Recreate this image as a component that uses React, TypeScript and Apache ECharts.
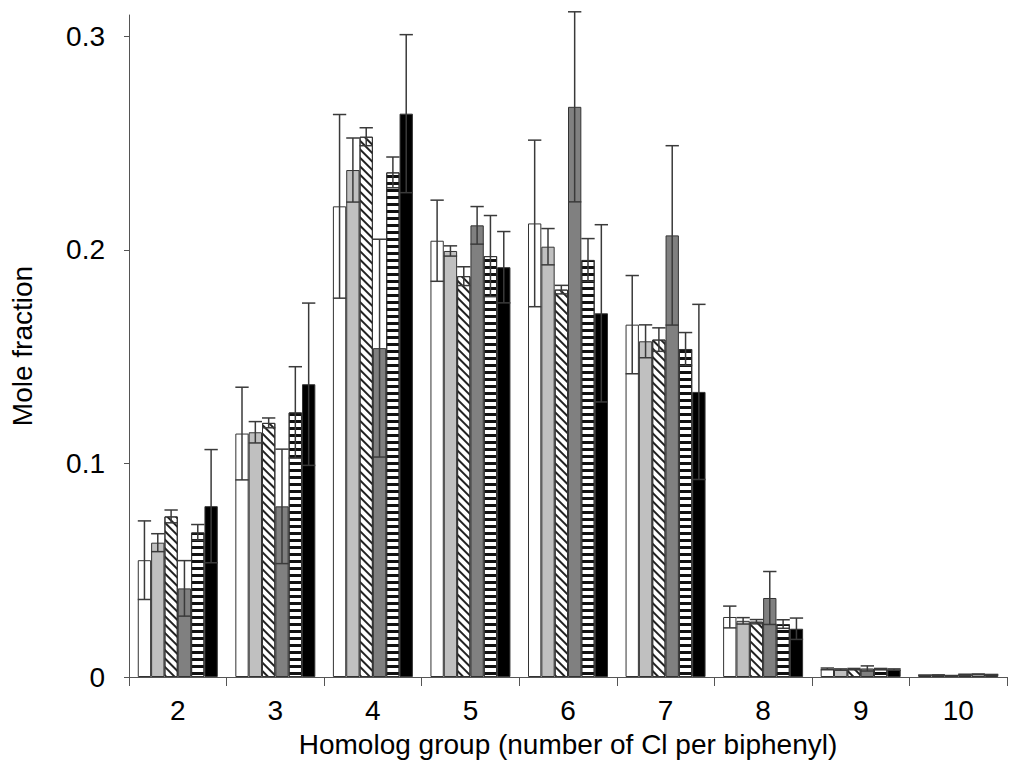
import React, { useEffect, useRef } from "react";
import * as echarts from "echarts";

const categories = ["2", "3", "4", "5", "6", "7", "8", "9", "10"];
const yTicks = [0, 0.1, 0.2, 0.3];

const whiteVals = [0.0547, 0.114, 0.2204, 0.2043, 0.2124, 0.165, 0.0281, 0.0038, 0.0008];
const whiteErr = [0.0184, 0.0217, 0.043, 0.019, 0.039, 0.023, 0.0051, 0.0004, 0.0001];
const lightVals = [0.0629, 0.1146, 0.2374, 0.1995, 0.2015, 0.1572, 0.0263, 0.0035, 0.0009];
const lightErr = [0.0042, 0.005, 0.015, 0.0024, 0.0085, 0.0077, 0.0015, 0.0003, 0.0001];
const hatchVals = [0.0752, 0.119, 0.253, 0.1877, 0.1814, 0.158, 0.0259, 0.0037, 0.0006];
const hatchErr = [0.003, 0.0023, 0.0042, 0.0044, 0.002, 0.0055, 0.001, 0.0003, 0.0001];
const darkVals = [0.0415, 0.0799, 0.154, 0.2115, 0.267, 0.2068, 0.037, 0.004, 0.0011];
const darkErr = [0.013, 0.0268, 0.051, 0.0088, 0.0445, 0.042, 0.0124, 0.0012, 0.0002];
const stripeVals = [0.0677, 0.1239, 0.2363, 0.1971, 0.1953, 0.1536, 0.0248, 0.0037, 0.0013];
const stripeErr = [0.0037, 0.0214, 0.0072, 0.019, 0.01, 0.0077, 0.002, 0.0003, 0.0001];
const blackVals = [0.08, 0.1371, 0.2638, 0.1919, 0.1703, 0.1335, 0.0226, 0.0035, 0.0011];
const blackErr = [0.0265, 0.038, 0.037, 0.0167, 0.0415, 0.041, 0.005, 0.0003, 0.0001];

const CAT_GAP = 0.18;
const FONT = "Liberation Sans, Arial, sans-serif";
const FS = 28;

export default function App() {
  const ref = useRef<HTMLDivElement>(null);
  useEffect(() => {
    if (!ref.current) return;
    const chart = echarts.init(ref.current, null, { renderer: "svg" });
    const seriesDefs = [
      { name: "A", vals: whiteVals, errs: whiteErr, color: "#ffffff", decal: null },
      { name: "B", vals: lightVals, errs: lightErr, color: "#c0c0c0", decal: null },
      {
        name: "C", vals: hatchVals, errs: hatchErr, color: "#ffffff",
        decal: { symbol: "rect", symbolSize: 1, color: "#222", dashArrayX: [1, 0], dashArrayY: [1.5, 3.5], rotation: Math.PI / 4 },
      },
      { name: "D", vals: darkVals, errs: darkErr, color: "#808080", decal: null },
      {
        name: "E", vals: stripeVals, errs: stripeErr, color: "#ffffff",
        decal: { symbol: "rect", symbolSize: 1, color: "#111", dashArrayX: [1, 0], dashArrayY: [3, 4], rotation: 0 },
      },
      { name: "F", vals: blackVals, errs: blackErr, color: "#000000", decal: null },
    ];
    const n = seriesDefs.length;
    const barSeries: any[] = seriesDefs.map((s) => ({
      type: "bar",
      name: s.name,
      data: s.vals,
      barGap: "0%",
      barCategoryGap: CAT_GAP * 100 + "%",
      itemStyle: {
        color: s.color,
        borderColor: "#333",
        borderWidth: 1,
        ...(s.decal ? { decal: s.decal } : {}),
      },
      z: 2,
    }));
    const errSeries: any[] = seriesDefs.map((s, si) => ({
      type: "custom",
      name: s.name + "err",
      z: 5,
      clip: false,
      data: s.vals.map((v, i) => [i, v, s.errs[i]]),
      encode: { x: 0, y: 1 },
      renderItem: (params: any, api: any) => {
        const idx = api.value(0);
        const v = api.value(1);
        const e = api.value(2);
        const c = api.coord([idx, v]);
        const bandW = api.size([1, 0])[0];
        const barW = (bandW * (1 - CAT_GAP)) / n;
        const cx = c[0] - (bandW * (1 - CAT_GAP)) / 2 + (si + 0.5) * barW;
        const yt = api.coord([idx, v + e])[1];
        const yb = api.coord([idx, Math.max(v - e, 0)])[1];
        const half = barW / 2;
        const style = { stroke: "#3a3a3a", lineWidth: 1.5 };
        return {
          type: "group",
          children: [
            { type: "line", shape: { x1: cx, y1: yt, x2: cx, y2: yb }, style },
            { type: "line", shape: { x1: cx - half, y1: yt, x2: cx + half, y2: yt }, style },
            { type: "line", shape: { x1: cx - half, y1: yb, x2: cx + half, y2: yb }, style },
          ],
        };
      },
    }));

    chart.setOption({
      animation: false,
      backgroundColor: "#ffffff",
      grid: { left: 128, right: 9, top: 15, bottom: 97 },
      xAxis: {
        type: "category",
        data: categories,
        name: "Homolog group (number of Cl per biphenyl)",
        nameLocation: "middle",
        nameGap: 53,
        nameTextStyle: { fontSize: FS, color: "#000", fontFamily: FONT },
        axisLine: { lineStyle: { color: "#555", width: 1 } },
        axisTick: { show: true, length: 9, lineStyle: { color: "#555" } },
        axisLabel: { fontSize: FS, color: "#000", margin: 19, fontFamily: FONT },
        splitLine: { show: false },
      },
      yAxis: {
        type: "value",
        min: 0,
        max: 0.31,
        interval: 0.1,
        name: "Mole fraction",
        nameLocation: "middle",
        nameGap: 93,
        nameTextStyle: { fontSize: FS, color: "#000", fontFamily: FONT },
        axisLine: { show: true, lineStyle: { color: "#555", width: 1 } },
        axisTick: { show: true, length: 5, lineStyle: { color: "#555" }, customValues: yTicks },
        axisLabel: {
          fontSize: FS,
          color: "#000",
          margin: 24,
          fontFamily: FONT,
          customValues: yTicks,
          formatter: (v: number) => {
            if (Math.abs(v * 10 - Math.round(v * 10)) > 1e-6) return "";
            return v === 0 ? "0" : String(Math.round(v * 10) / 10);
          },
        },
        splitLine: { show: false },
      },
      series: [...barSeries, ...errSeries],
    });
    return () => chart.dispose();
  }, []);
  return (
    <div
      ref={ref}
      style={{ position: "fixed", left: 0, top: 0, width: 1016, height: 774, background: "#fff" }}
    />
  );
}
